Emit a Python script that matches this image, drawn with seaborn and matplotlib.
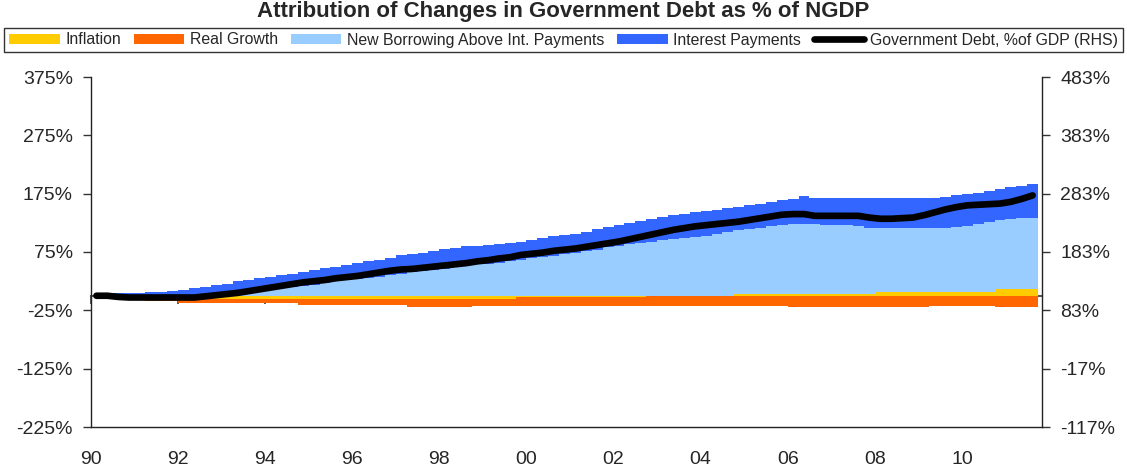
import numpy as np
import pandas as pd
import seaborn as sns
import matplotlib.pyplot as plt
from matplotlib.patches import Patch
from matplotlib.lines import Line2D

# quarterly, 1990Q1 .. 2011Q3 (left axis: contributions in % of NGDP)
quarters = pd.period_range('1990Q1', '2011Q3', freq='Q')

inflation = [
    0, 0, 0, 0,   0, 0, 0, 0,   0, 0, -5, -5,   -5, -5, -5, -5,
    -5, -5, -5, -5,   -5, -5, -5, -5,   -5, -5, -5, -5,   -5, -5, -5, -5,
    -5, -5, -5, -5,   -5, -5, -5, -2,   -2, -2, -2, -2,   -2, -2, -2, -2,
    -2, -2, -2, 0,   0, 0, 0, 0,   0, 0, 0, 3,   3, 3, 3, 3,
    3, 3, 3, 3,   3, 3, 3, 3,   7, 7, 7, 7,   7, 7, 7, 7,
    7, 7, 7, 11,   11, 11, 11,
]
real_growth = [
    0, 0, 0, 0,   0, -9, -9, -9,   -12, -12, -7, -7,   -7, -7, -7, -7,
    -7, -7, -7, -11,   -11, -11, -11, -11,   -11, -11, -11, -11,   -11, -14, -14, -14,
    -14, -14, -14, -12,   -12, -12, -12, -15,   -15, -15, -15, -15,   -15, -15, -15, -15,
    -15, -15, -15, -17,   -17, -17, -17, -17,   -17, -17, -17, -17,   -17, -17, -17, -17,
    -20, -20, -20, -20,   -20, -20, -20, -20,   -20, -20, -20, -20,   -20, -17, -17, -17,
    -17, -17, -17, -20,   -20, -20, -20,
]
new_borrowing = [
    0, 0, 0, 0,   0, 0, 0, 0,   1, 2, 2, 3,   4, 5, 7, 9,
    11, 13, 15, 17,   19, 22, 25, 27,   29, 31, 33, 35,   37, 40, 42, 44,
    46, 50, 52, 54,   55, 57, 59, 62,   65, 67, 69, 71,   73, 77, 79, 83,
    86, 89, 91, 93,   95, 97, 99, 101,   103, 106, 109, 110,   112, 114, 117, 119,
    120, 120, 120, 119,   118, 118, 117, 114,   109, 109, 109, 109,   109, 110, 110, 111,
    113, 116, 119, 119,   121, 122, 122,
]
interest = [
    0, 0, 4, 5,   5, 6, 6, 8,   9, 11, 13, 15,   16, 20, 20, 21,
    22, 23, 22, 24,   25, 26, 25, 26,   27, 28, 29, 30,   32, 32, 32, 33,
    34, 32, 33, 32,   32, 32, 32, 30,   31, 32, 33, 33,   33, 33, 35, 35,
    36, 36, 37, 38,   40, 41, 41, 42,   42, 41, 41, 39,   40, 41, 41, 42,
    43, 48, 45, 46,   47, 47, 48, 51,   52, 52, 52, 52,   52, 51, 53, 54,
    54, 54, 54, 53,   54, 56, 58,
]
# right axis: government debt, % of GDP
gov_debt = [
    108, 108, 106, 105,   105, 105, 105, 105,   105, 105, 107, 109,   111, 113, 116, 119,
    122, 125, 128, 131,   133, 135, 138, 140,   142, 145, 148, 151,   153, 154, 156, 158,
    160, 162, 164, 167,   169, 172, 174, 178,   180, 182, 185, 187,   189, 192, 195, 198,
    201, 205, 209, 213,   217, 221, 224, 227,   229, 231, 233, 235,   238, 241, 244, 247,
    248, 248, 245, 245,   245, 245, 245, 242,   240, 240, 241, 242,   246, 251, 256, 260,
    263, 264, 265, 266,   269, 274, 280,
]

left_ticks = [-225, -125, -25, 75, 175, 275, 375]
right_ticks = [-117, -17, 83, 183, 283, 383, 483]
year_ticks = list(range(1990, 2011, 2))

df = pd.DataFrame({
    'x': quarters.year + (quarters.quarter - 1) / 4,
    'Inflation': inflation,
    'Real Growth': real_growth,
    'New Borrowing Above Int. Payments': new_borrowing,
    'Interest Payments': interest,
    'debt': gov_debt,
})

colors = {
    'Inflation': '#FFCC00',
    'Real Growth': '#FF6600',
    'New Borrowing Above Int. Payments': '#99CCFF',
    'Interest Payments': '#3366FF',
}

sns.set_style('white')
plt.rcParams['font.family'] = ['Liberation Sans', 'DejaVu Sans']

fig = plt.figure(figsize=(11.27, 4.74), dpi=100)
ax = fig.add_axes([91 / 1127, 1 - 427 / 474, (1042 - 91) / 1127, 350 / 474])

# stacked bars, positives up from zero, negatives down from zero
pos = np.zeros(len(df))
neg = np.zeros(len(df))
for name, col in colors.items():
    v = df[name].to_numpy(dtype=float)
    bottom = np.where(v >= 0, pos, neg)
    ax.bar(df['x'], v, bottom=bottom, width=0.25, align='edge', color=col,
           linewidth=0, antialiased=False, zorder=2)
    pos = pos + np.clip(v, 0, None)
    neg = neg + np.clip(v, None, 0)

ax.set_xlim(1990, 2011.84)
ax.set_ylim(-225, 375)
ax.set_yticks(left_ticks)
ax.set_yticklabels([f'{t}%' for t in left_ticks])
ax.set_xticks(year_ticks)
ax.set_xticklabels([f'{y % 100:02d}' for y in year_ticks])
ax.tick_params(axis='y', direction='out', length=6, width=1, color='#333333',
               labelsize=14, pad=7, left=True)
ax.tick_params(axis='x', length=0, labelsize=14, pad=17)
for s in ['left', 'bottom']:
    ax.spines[s].set_color('#222222')
    ax.spines[s].set_linewidth(1)
ax.spines['top'].set_visible(False)
ax.spines['right'].set_visible(False)

# zero line with its own tick marks
zero = ax.secondary_xaxis(225 / 600)
zero.set_xticks(year_ticks)
zero.tick_params(direction='out', length=6, width=1.2, color='#3a3a3a', labelbottom=False)
zero.spines['bottom'].set_color('#555555')
zero.spines['bottom'].set_linewidth(1.5)

ax2 = ax.twinx()
sns.lineplot(data=df, x=df['x'] + 0.125, y='debt', ax=ax2, color='black', lw=4.8,
             solid_capstyle='round', legend=False)
ax2.set_ylim(-117, 483)
ax2.set_yticks(right_ticks)
ax2.set_yticklabels([f'{t}%' for t in right_ticks])
ax2.set_ylabel('')
ax2.set_xlabel('')
ax2.tick_params(axis='y', direction='out', length=6, width=1, color='#333333',
                labelsize=14, pad=7, right=True)
ax2.spines['right'].set_color('#222222')
ax2.spines['right'].set_linewidth(1)
for s in ['top', 'left', 'bottom']:
    ax2.spines[s].set_visible(False)
ax.set_xlabel('')
ax.set_ylabel('')

fig.text(0.5, 1 - 11 / 474, 'Attribution of Changes in Government Debt as % of NGDP',
         ha='center', va='center', fontsize=16, fontweight='bold')

handles = [Patch(facecolor=c, edgecolor='none') for c in colors.values()]
handles.append(Line2D([], [], color='black', lw=4.8, solid_capstyle='round'))
labels = list(colors.keys()) + ['Government Debt, %of GDP (RHS)']
leg = fig.legend(handles, labels, loc='center', bbox_to_anchor=(0.5, 1 - 40 / 474),
                 ncol=5, fontsize=11.4, frameon=True, fancybox=False, handlelength=3.2,
                 handleheight=0.6, handletextpad=0.35, columnspacing=0.8,
                 borderpad=0.3, borderaxespad=0)
leg.get_frame().set_edgecolor('black')
leg.get_frame().set_linewidth(1)

fig.savefig('out.png', dpi=100)
